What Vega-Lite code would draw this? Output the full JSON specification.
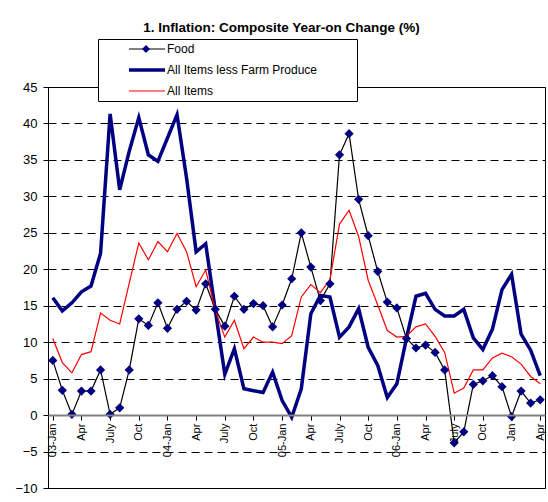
{
  "$schema": "https://vega.github.io/schema/vega-lite/v6.json",
  "width": 497,
  "height": 401,
  "autosize": {"type": "none"},
  "padding": {"left": 48, "top": 87, "right": 3, "bottom": 14},
  "background": "white",
  "title": {
    "text": "1. Inflation: Composite Year-on Change (%)",
    "font": "Liberation Sans",
    "fontSize": 13.5,
    "fontWeight": "bold",
    "color": "black",
    "anchor": "middle",
    "dx": -15,
    "offset": 4
  },
  "config": {
    "view": {"stroke": "black", "strokeWidth": 1}
  },
  "data": {
    "values": [
      {"m": "2003-01", "Food": 7.5, "All Items less Farm Produce": 16.1, "All Items": 10.5},
      {"m": "2003-02", "Food": 3.4, "All Items less Farm Produce": 14.3, "All Items": 7.2},
      {"m": "2003-03", "Food": 0.1, "All Items less Farm Produce": 15.4, "All Items": 5.8},
      {"m": "2003-04", "Food": 3.3, "All Items less Farm Produce": 16.9, "All Items": 8.3},
      {"m": "2003-05", "Food": 3.3, "All Items less Farm Produce": 17.7, "All Items": 8.7},
      {"m": "2003-06", "Food": 6.2, "All Items less Farm Produce": 22.2, "All Items": 14.0},
      {"m": "2003-07", "Food": 0.1, "All Items less Farm Produce": 41.3, "All Items": 13.0},
      {"m": "2003-08", "Food": 1.0, "All Items less Farm Produce": 30.9, "All Items": 12.5},
      {"m": "2003-09", "Food": 6.2, "All Items less Farm Produce": 36.2, "All Items": 18.1},
      {"m": "2003-10", "Food": 13.2, "All Items less Farm Produce": 40.8, "All Items": 23.6},
      {"m": "2003-11", "Food": 12.3, "All Items less Farm Produce": 35.7, "All Items": 21.3},
      {"m": "2003-12", "Food": 15.4, "All Items less Farm Produce": 34.8, "All Items": 23.8},
      {"m": "2004-01", "Food": 11.9, "All Items less Farm Produce": 38.0, "All Items": 22.4},
      {"m": "2004-02", "Food": 14.5, "All Items less Farm Produce": 41.2, "All Items": 24.9},
      {"m": "2004-03", "Food": 15.6, "All Items less Farm Produce": 32.5, "All Items": 22.4},
      {"m": "2004-04", "Food": 14.4, "All Items less Farm Produce": 22.4, "All Items": 17.6},
      {"m": "2004-05", "Food": 18.0, "All Items less Farm Produce": 23.5, "All Items": 19.9},
      {"m": "2004-06", "Food": 14.5, "All Items less Farm Produce": 14.4, "All Items": 14.4},
      {"m": "2004-07", "Food": 12.2, "All Items less Farm Produce": 5.6, "All Items": 10.7},
      {"m": "2004-08", "Food": 16.3, "All Items less Farm Produce": 9.1, "All Items": 13.0},
      {"m": "2004-09", "Food": 14.5, "All Items less Farm Produce": 3.6, "All Items": 9.1},
      {"m": "2004-10", "Food": 15.3, "All Items less Farm Produce": 3.35, "All Items": 10.7},
      {"m": "2004-11", "Food": 15.0, "All Items less Farm Produce": 3.1, "All Items": 10.0},
      {"m": "2004-12", "Food": 12.1, "All Items less Farm Produce": 5.9, "All Items": 10.0},
      {"m": "2005-01", "Food": 15.1, "All Items less Farm Produce": 2.0, "All Items": 9.8},
      {"m": "2005-02", "Food": 18.7, "All Items less Farm Produce": -0.3, "All Items": 10.9},
      {"m": "2005-03", "Food": 25.0, "All Items less Farm Produce": 3.6, "All Items": 16.2},
      {"m": "2005-04", "Food": 20.3, "All Items less Farm Produce": 13.9, "All Items": 17.9},
      {"m": "2005-05", "Food": 15.7, "All Items less Farm Produce": 16.4, "All Items": 16.8},
      {"m": "2005-06", "Food": 18.0, "All Items less Farm Produce": 16.2, "All Items": 18.6},
      {"m": "2005-07", "Food": 35.7, "All Items less Farm Produce": 10.7, "All Items": 26.2},
      {"m": "2005-08", "Food": 38.6, "All Items less Farm Produce": 12.1, "All Items": 28.1},
      {"m": "2005-09", "Food": 29.6, "All Items less Farm Produce": 14.6, "All Items": 24.5},
      {"m": "2005-10", "Food": 24.6, "All Items less Farm Produce": 9.3, "All Items": 18.5},
      {"m": "2005-11", "Food": 19.7, "All Items less Farm Produce": 6.8, "All Items": 15.1},
      {"m": "2005-12", "Food": 15.5, "All Items less Farm Produce": 2.4, "All Items": 11.6},
      {"m": "2006-01", "Food": 14.7, "All Items less Farm Produce": 4.3, "All Items": 10.7},
      {"m": "2006-02", "Food": 10.5, "All Items less Farm Produce": 10.5, "All Items": 10.8},
      {"m": "2006-03", "Food": 9.2, "All Items less Farm Produce": 16.3, "All Items": 12.1},
      {"m": "2006-04", "Food": 9.6, "All Items less Farm Produce": 16.7, "All Items": 12.5},
      {"m": "2006-05", "Food": 8.6, "All Items less Farm Produce": 14.5, "All Items": 10.8},
      {"m": "2006-06", "Food": 6.2, "All Items less Farm Produce": 13.6, "All Items": 8.6},
      {"m": "2006-07", "Food": -3.8, "All Items less Farm Produce": 13.6, "All Items": 3.0},
      {"m": "2006-08", "Food": -2.3, "All Items less Farm Produce": 14.5, "All Items": 3.7},
      {"m": "2006-09", "Food": 4.2, "All Items less Farm Produce": 10.6, "All Items": 6.2},
      {"m": "2006-10", "Food": 4.7, "All Items less Farm Produce": 9.0, "All Items": 6.2},
      {"m": "2006-11", "Food": 5.4, "All Items less Farm Produce": 11.8, "All Items": 7.85},
      {"m": "2006-12", "Food": 3.9, "All Items less Farm Produce": 17.2, "All Items": 8.5},
      {"m": "2007-01", "Food": -0.2, "All Items less Farm Produce": 19.3, "All Items": 8.0},
      {"m": "2007-02", "Food": 3.3, "All Items less Farm Produce": 11.1, "All Items": 7.0},
      {"m": "2007-03", "Food": 1.65, "All Items less Farm Produce": 8.9, "All Items": 5.3},
      {"m": "2007-04", "Food": 2.1, "All Items less Farm Produce": 5.4, "All Items": 4.3}
    ]
  },
  "transform": [
    {"fold": ["Food", "All Items less Farm Produce", "All Items"], "as": ["series", "value"]}
  ],
  "encoding": {
    "x": {
      "field": "m",
      "type": "ordinal",
      "scale": {"type": "point", "padding": 0.5},
      "axis": {
        "title": null,
        "values": ["2003-01","2003-04","2003-07","2003-10","2004-01","2004-04","2004-07","2004-10","2005-01","2005-04","2005-07","2005-10","2006-01","2006-04","2006-07","2006-10","2007-01","2007-04"],
        "labelExpr": "slice(datum.value,5)=='01' ? (slice(datum.value,0,4)=='2007' ? 'Jan' : slice(datum.value,2,4)+'-Jan') : slice(datum.value,5)=='04' ? 'Apr' : slice(datum.value,5)=='07' ? 'July' : 'Oct'",
        "labelAngle": 270,
        "labelAlign": "right",
        "labelBaseline": "middle",
        "labelFont": "Liberation Sans",
        "labelFontSize": 11,
        "labelColor": "black",
        "labelPadding": 3,
        "domainColor": "#808080",
        "domainWidth": 2,
        "tickColor": "black",
        "tickSize": 5,
        "grid": false,
        "offset": -72.9,
        "zindex": 1
      }
    },
    "y": {
      "field": "value",
      "type": "quantitative",
      "scale": {"domain": [-10, 45], "nice": false, "zero": false},
      "axis": {
        "title": null,
        "values": [-10, -5, 0, 5, 10, 15, 20, 25, 30, 35, 40, 45],
        "labelFont": "Liberation Sans",
        "labelFontSize": 13,
        "labelColor": "black",
        "labelPadding": 6,
        "domainColor": "black",
        "tickColor": "black",
        "tickSize": 5,
        "grid": true,
        "gridColor": "black",
        "gridDash": [8, 5],
        "gridWidth": 1
      }
    }
  },
  "layer": [
    {
      "mark": {"type": "line", "strokeJoin": "miter"},
      "encoding": {
        "color": {
          "field": "series",
          "type": "nominal",
          "scale": {"domain": ["Food", "All Items less Farm Produce", "All Items"], "range": ["black", "#000080", "#ff0000"]},
          "legend": {
            "orient": "none", "legendX": 50, "legendY": -48, "title": null,
            "symbolType": "stroke", "symbolSize": 1296, "symbolOffset": 26, "labelOffset": 0,
            "clipHeight": 14, "rowPadding": 7, "padding": 3, "labelLimit": 400,
            "labelFont": "Liberation Sans", "labelFontSize": 12, "labelColor": "black",
            "strokeColor": "black", "fillColor": "white",
            "labelExpr": "datum.label + '\u2800\u2800\u2800\u2800'"
          }
        },
        "strokeWidth": {
          "field": "series",
          "type": "nominal",
          "scale": {"type": "ordinal", "domain": ["Food", "All Items less Farm Produce", "All Items"], "range": [1.2, 3.5, 1.2]},
          "legend": {
            "orient": "none", "legendX": 50, "legendY": -48, "title": null,
            "symbolType": "stroke", "symbolSize": 1296, "symbolOffset": 26, "labelOffset": 0,
            "clipHeight": 14, "rowPadding": 7, "padding": 3, "labelLimit": 400,
            "labelFont": "Liberation Sans", "labelFontSize": 12, "labelColor": "black",
            "strokeColor": "black", "fillColor": "white",
            "labelExpr": "datum.label + '\u2800\u2800\u2800\u2800'"
          }
        }
      }
    },
    {
      "transform": [{"filter": "datum.series == 'Food'"}],
      "mark": {"type": "point", "filled": true, "color": "#000080", "size": 85, "opacity": 1},
      "encoding": {
        "shape": {
          "field": "series",
          "type": "nominal",
          "scale": {"domain": ["Food"], "range": ["diamond"]},
          "legend": {
            "orient": "none", "legendX": 90, "legendY": -48, "title": null,
            "symbolSize": 64, "symbolFillColor": "#000080", "symbolStrokeWidth": 0,
            "clipHeight": 14, "padding": 3,
            "labelExpr": "''", "labelColor": "transparent"
          }
        }
      }
    }
  ]
}
